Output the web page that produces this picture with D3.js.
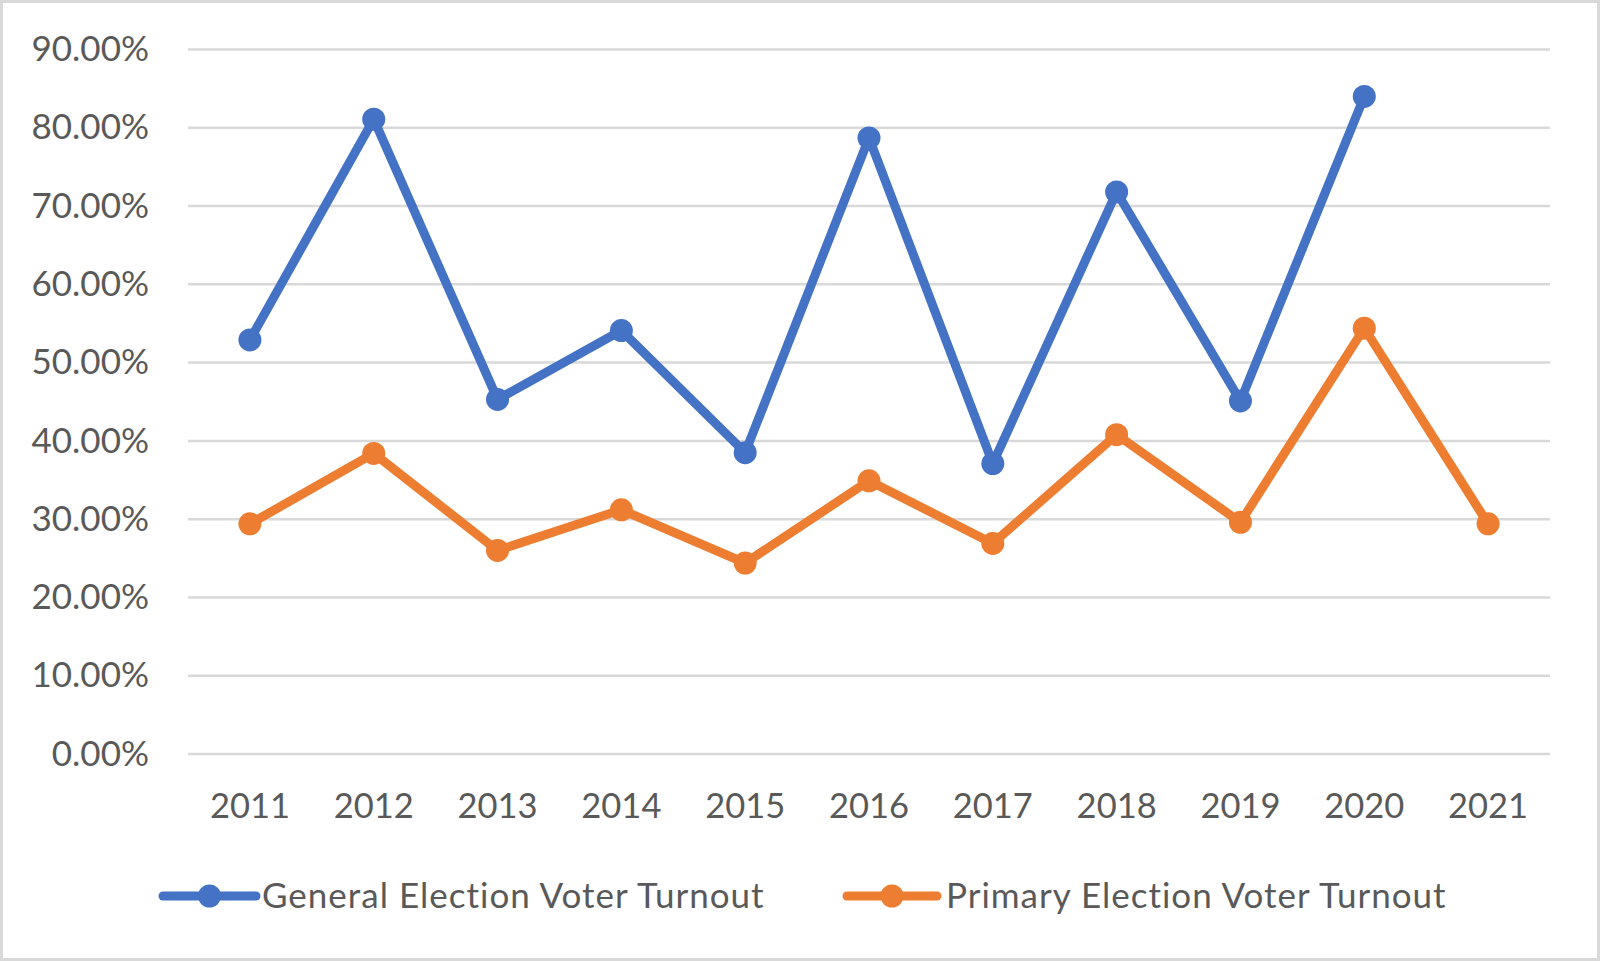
<!DOCTYPE html>
<html>
<head>
<meta charset="utf-8">
<script src="https://cdn.jsdelivr.net/npm/d3@7"></script>
<style>
  html, body { margin: 0; padding: 0; background: #fff; }
  svg { display: block; font-family: Lato, "Open Sans", sans-serif; }
</style>
</head>
<body>
<svg id="chart"></svg>
<script>
'use strict';

var years = ["2011", "2012", "2013", "2014", "2015", "2016", "2017", "2018", "2019", "2020", "2021"];
var generalTurnout = [52.9, 81.1, 45.3, 54.1, 38.5, 78.7, 37.1, 71.8, 45.1, 84.0, null];
var primaryTurnout = [29.4, 38.4, 26.0, 31.2, 24.4, 34.9, 26.9, 40.8, 29.6, 54.4, 29.4];
var yTicks = [0, 10, 20, 30, 40, 50, 60, 70, 80, 90];
var seriesNames = ["General Election Voter Turnout", "Primary Election Voter Turnout"];

var colors = {
    general: "#4472C4",
    primary: "#ED7D31",
    grid: "#D9D9D9",
    text: "#595959",
    border: "#D9D9D9"
};

var width = 1600,
    height = 961;

var svg = d3.select("#chart")
    .attr("width", width)
    .attr("height", height);

// outer chart border
svg.append("rect")
    .attr("x", 1.5).attr("y", 1.5)
    .attr("width", width - 3).attr("height", height - 3)
    .attr("fill", "#fff")
    .attr("stroke", colors.border)
    .attr("stroke-width", 3);

var plot = { left: 188, right: 1550, top: 49.5, bottom: 754 };

var x = d3.scaleBand()
    .domain(years)
    .range([plot.left, plot.right]);

var y = d3.scaleLinear()
    .domain([0, 90])
    .range([plot.bottom, plot.top]);

// gridlines
svg.append("g")
    .selectAll("line")
    .data(yTicks)
    .join("line")
    .attr("x1", plot.left)
    .attr("x2", plot.right)
    .attr("y1", d => y(d))
    .attr("y2", d => y(d))
    .attr("stroke", colors.grid)
    .attr("stroke-width", 2.5);

// y axis labels
var yAxis = d3.axisLeft(y)
    .tickValues(yTicks)
    .tickSize(0)
    .tickPadding(0)
    .tickFormat(d => d.toFixed(2) + "%");

svg.append("g")
    .attr("transform", "translate(149,0)")
    .call(yAxis)
    .call(g => g.select(".domain").remove())
    .call(g => g.selectAll("text")
        .attr("fill", colors.text)
        .style("font-family", "Lato, 'Open Sans', sans-serif")
        .style("font-size", "35px"));

// x axis labels
var xAxis = d3.axisBottom(x)
    .tickSize(0)
    .tickPadding(0);

svg.append("g")
    .attr("transform", "translate(0," + (plot.bottom + 39) + ")")
    .call(xAxis)
    .call(g => g.select(".domain").remove())
    .call(g => g.selectAll("text")
        .attr("fill", colors.text)
        .style("font-family", "Lato, 'Open Sans', sans-serif")
        .style("font-size", "34.5px"));

var series = [
    { name: seriesNames[0], values: generalTurnout, color: colors.general },
    { name: seriesNames[1], values: primaryTurnout, color: colors.primary }
];

var line = d3.line()
    .defined(d => d.v !== null)
    .x(d => x(d.year) + x.bandwidth() / 2)
    .y(d => y(d.v));

series.forEach(function(s) {
    var pts = years.map((yr, i) => ({ year: yr, v: s.values[i] }));
    var g = svg.append("g");
    g.append("path")
        .datum(pts)
        .attr("fill", "none")
        .attr("stroke", s.color)
        .attr("stroke-width", 9)
        .attr("stroke-linejoin", "round")
        .attr("d", line);
    g.selectAll("circle")
        .data(pts.filter(d => d.v !== null))
        .join("circle")
        .attr("cx", d => x(d.year) + x.bandwidth() / 2)
        .attr("cy", d => y(d.v))
        .attr("r", 11.5)
        .attr("fill", s.color);
});

// legend
var legendY = 896;
var legendItems = [
    { x0: 163, x1: 256, tx: 262 },
    { x0: 847, x1: 937, tx: 946 }
];

var legend = svg.append("g");
series.forEach(function(s, i) {
    var li = legendItems[i];
    legend.append("line")
        .attr("x1", li.x0).attr("x2", li.x1)
        .attr("y1", legendY).attr("y2", legendY)
        .attr("stroke", s.color)
        .attr("stroke-width", 9)
        .attr("stroke-linecap", "round");
    legend.append("circle")
        .attr("cx", (li.x0 + li.x1) / 2)
        .attr("cy", legendY)
        .attr("r", 11.5)
        .attr("fill", s.color);
    legend.append("text")
        .attr("x", li.tx)
        .attr("y", legendY)
        .attr("dy", "0.35em")
        .attr("fill", colors.text)
        .style("font-size", "35px")
        .style("letter-spacing", "1px")
        .text(s.name);
});
</script>
</body>
</html>
